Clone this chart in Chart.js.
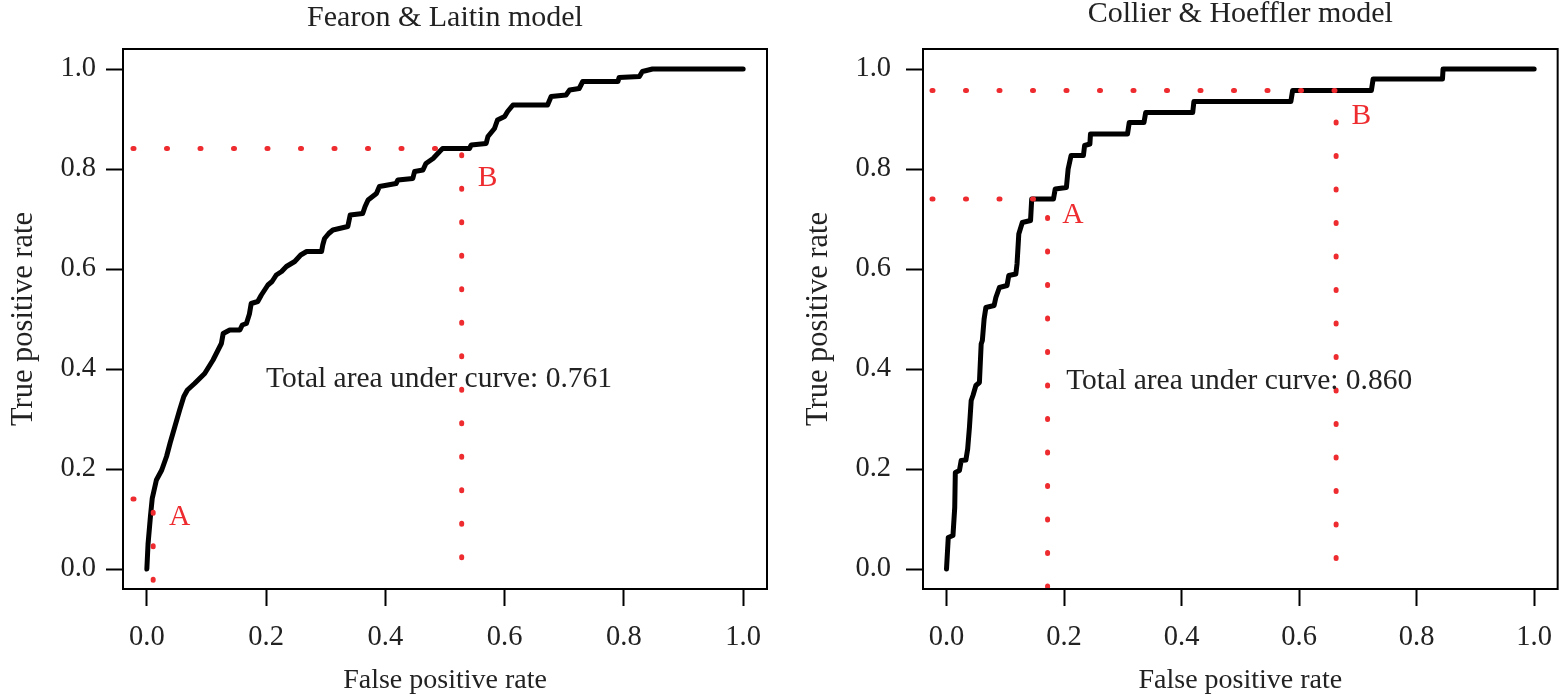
<!DOCTYPE html>
<html><head><meta charset="utf-8">
<script src="https://cdn.jsdelivr.net/npm/chart.js@4.4.1/dist/chart.umd.min.js"></script>
<style>
html,body{margin:0;padding:0;background:#fff;width:1566px;height:697px;overflow:hidden;}
canvas{position:absolute;top:0;}
#c1{left:0px;} #c2{left:790px;}
</style></head><body>
<canvas id="c1" width="783" height="697"></canvas>
<canvas id="c2" width="776" height="697"></canvas>
<script>
// ---- data ----
const xTicks = [0, 0.2, 0.4, 0.6, 0.8, 1.0];
const yTicks = [0, 0.2, 0.4, 0.6, 0.8, 1.0];
const panelTitles = ['Fearon & Laitin model', 'Collier & Hoeffler model'];
const xTitle = 'False positive rate';
const yTitle = 'True positive rate';
const aucTexts = ['Total area under curve: 0.761', 'Total area under curve: 0.860'];
const cutNames = ['A', 'B'];

// Fearon & Laitin ROC curve
const flFpr = [0,0.002,0.006,0.009,0.016,0.025,0.033,0.039,0.047,0.055,0.062,0.068,0.080,0.097,0.111,0.125,0.128,0.139,0.156,0.160,0.167,0.172,0.175,0.186,0.192,0.203,0.210,0.217,0.226,0.234,0.248,0.258,0.268,0.293,0.295,0.298,0.305,0.312,0.337,0.341,0.362,0.366,0.371,0.385,0.390,0.418,0.421,0.446,0.449,0.463,0.468,0.480,0.491,0.496,0.541,0.544,0.569,0.572,0.583,0.588,0.600,0.605,0.614,0.672,0.678,0.703,0.709,0.725,0.731,0.790,0.792,0.826,0.831,0.848,1.0];
const flTpr = [0,0.050,0.105,0.141,0.178,0.198,0.225,0.252,0.285,0.318,0.345,0.358,0.371,0.391,0.418,0.451,0.471,0.478,0.478,0.488,0.491,0.510,0.531,0.535,0.548,0.568,0.575,0.588,0.595,0.605,0.615,0.628,0.635,0.635,0.648,0.661,0.671,0.678,0.685,0.708,0.711,0.725,0.738,0.751,0.765,0.771,0.778,0.781,0.795,0.798,0.811,0.821,0.835,0.841,0.841,0.848,0.851,0.865,0.881,0.898,0.905,0.915,0.928,0.928,0.945,0.948,0.958,0.961,0.975,0.975,0.983,0.985,0.995,1.0,1.0];
// Collier & Hoeffler ROC curve
const chFpr = [0,0.003,0.011,0.014,0.015,0.022,0.025,0.033,0.036,0.039,0.042,0.045,0.050,0.056,0.059,0.061,0.064,0.067,0.081,0.084,0.090,0.103,0.106,0.118,0.120,0.123,0.129,0.143,0.145,0.182,0.185,0.204,0.207,0.212,0.233,0.235,0.244,0.245,0.308,0.311,0.336,0.339,0.419,0.421,0.586,0.589,0.723,0.726,0.844,0.845,1.0];
const chTpr = [0,0.063,0.067,0.123,0.193,0.197,0.217,0.218,0.240,0.283,0.337,0.347,0.367,0.373,0.450,0.457,0.500,0.523,0.527,0.543,0.563,0.567,0.587,0.590,0.610,0.670,0.693,0.697,0.740,0.740,0.760,0.763,0.800,0.827,0.827,0.847,0.850,0.870,0.870,0.893,0.893,0.913,0.913,0.935,0.935,0.957,0.957,0.980,0.980,1.0,1.0];

// cut-off points A and B
const flCutFpr = [0.0106, 0.528];
const flCutTpr = [0.140, 0.841];
const chCutFpr = [0.172, 0.663];
const chCutTpr = [0.740, 0.957];

// ---- helpers ----
const SERIF = '"Liberation Serif", "Times New Roman", serif';
const TXT = '#222222';
const RED = '#ee2b2f';

function pts(xs, ys){ return xs.map((x,i)=>({x:x, y:ys[i]})); }
function cutPath(fx, fy){ return [{x:-0.04,y:fy},{x:fx,y:fy},{x:fx,y:-0.04}]; }

const decorPlugin = {
  id: 'decor',
  afterDatasetsDraw(chart, args, o){
    const {ctx, chartArea:a, scales:{x, y}} = chart;
    ctx.save();
    ctx.strokeStyle = '#000'; ctx.lineWidth = 2;
    ctx.strokeRect(a.left, a.top, a.right - a.left, a.bottom - a.top);
    ctx.fillStyle = TXT;
    ctx.font = o.titleSize + 'px ' + SERIF;
    ctx.textAlign = 'center'; ctx.textBaseline = 'middle';
    ctx.fillText(o.title, (a.left + a.right)/2, o.titleY);
    ctx.font = o.textSize + 'px ' + SERIF;
    ctx.fillText(o.auc, x.getPixelForValue(o.aucAt[0]), y.getPixelForValue(o.aucAt[1]));
    ctx.fillStyle = RED;
    ctx.textAlign = 'left';
    o.cutLabelAt.forEach((p, i) => {
      ctx.fillText(cutNames[i], x.getPixelForValue(p[0]), y.getPixelForValue(p[1]));
    });
    ctx.restore();
  }
};

function makeChart(id, cfg){
  const tickFont = {family: SERIF, size: 28.5};
  const xTitleFont = {family: SERIF, size: 28};
  const yTitleFont = {family: SERIF, size: 30.5};
  const dotted = (fx, fy, off) => ({
    data: cutPath(fx, fy), showLine: true, borderColor: RED, borderWidth: 5,
    borderDash: [1, 32.5], borderDashOffset: off, borderCapStyle: 'round',
    pointRadius: 0, fill: false
  });
  return new Chart(document.getElementById(id), {
    type: 'scatter',
    data: { datasets: [
      dotted(cfg.cutFpr[0], cfg.cutTpr[0], cfg.dashOff),
      dotted(cfg.cutFpr[1], cfg.cutTpr[1], cfg.dashOff),
      { data: pts(cfg.fpr, cfg.tpr), showLine: true, borderColor: '#000', borderWidth: 5,
        borderCapStyle: 'round', borderJoinStyle: 'round', pointRadius: 0, fill: false }
    ]},
    options: {
      responsive: false, animation: false, devicePixelRatio: 1,
      layout: { padding: { top: 49, right: cfg.padRight, bottom: 0, left: 0 } },
      plugins: { legend: {display:false}, tooltip: {enabled:false},
        decor: { title: cfg.title, titleY: cfg.titleY, titleSize: 30, textSize: 29.5,
                 auc: cfg.auc, aucAt: cfg.aucAt, cutLabelAt: cfg.cutLabelAt } },
      scales: {
        x: { type: 'linear', min: -0.04, max: 1.04,
          afterBuildTicks: s => { s.ticks = xTicks.map(v => ({value: v})); },
          afterFit: s => { s.height = 108; },
          ticks: { font: tickFont, color: TXT, padding: 14, autoSkip: false, maxRotation: 0,
                   callback: v => Number(v).toFixed(1) },
          grid: { drawOnChartArea: false, drawTicks: true, tickLength: 17, tickWidth: 2, tickColor: '#000' },
          border: { display: false },
          title: { display: true, text: xTitle, font: xTitleFont, color: TXT, padding: {top: 0, bottom: 0} }
        },
        y: { type: 'linear', min: -0.04, max: 1.04,
          afterBuildTicks: s => { s.ticks = yTicks.map(v => ({value: v})); },
          afterFit: s => { s.width = cfg.yWidth; },
          ticks: { font: tickFont, color: TXT, padding: cfg.yTickPad, autoSkip: false,
                   callback: v => Number(v).toFixed(1) },
          grid: { drawOnChartArea: false, drawTicks: true, tickLength: 17, tickWidth: 2, tickColor: '#000' },
          border: { display: false },
          title: { display: true, text: yTitle, font: yTitleFont, color: TXT, padding: {top: cfg.yTitlePad, bottom: 0} }
        }
      }
    },
    plugins: [decorPlugin]
  });
}

makeChart('c1', {
  fpr: flFpr, tpr: flTpr, cutFpr: flCutFpr, cutTpr: flCutTpr,
  title: panelTitles[0], titleY: 18, auc: aucTexts[0], aucAt: [0.49, 0.38],
  cutLabelAt: [[0.037, 0.104], [0.555, 0.782]],
  padRight: 16, yWidth: 123, yTickPad: 10, yTitlePad: 6, dashOff: 23.5
});
makeChart('c2', {
  fpr: chFpr, tpr: chTpr, cutFpr: chCutFpr, cutTpr: chCutTpr,
  title: panelTitles[1], titleY: 14, auc: aucTexts[1], aucAt: [0.498, 0.375],
  cutLabelAt: [[0.197, 0.707], [0.689, 0.905]],
  padRight: 1, yWidth: 133, yTickPad: 15, yTitlePad: 11, dashOff: 24.5
});
</script>
</body></html>
